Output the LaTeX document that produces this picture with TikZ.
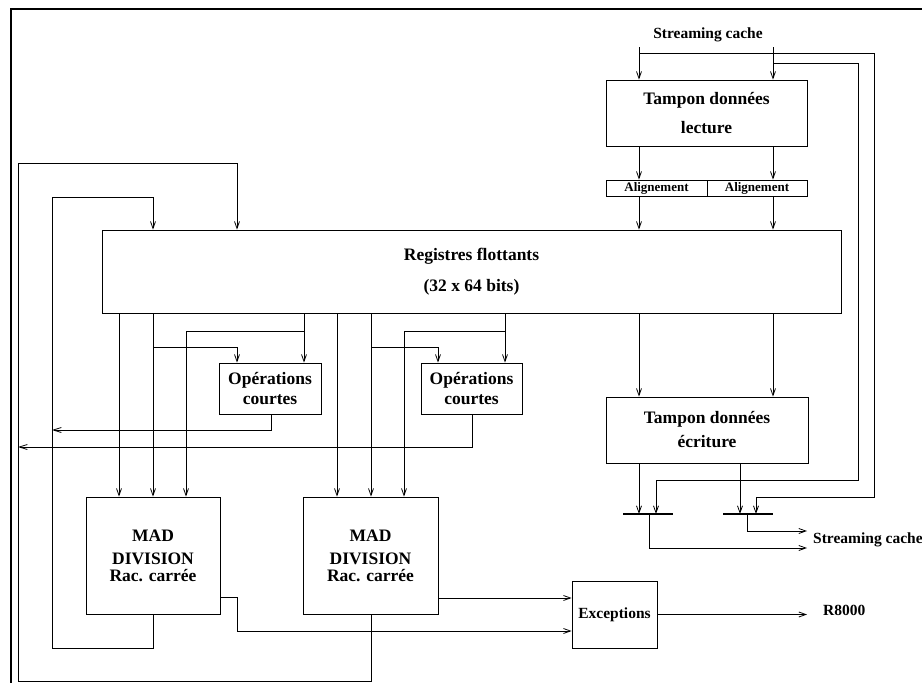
\documentclass[tikz,border=0pt]{standalone}
\usepackage{fontspec}
\setmainfont{Liberation Serif}
\usetikzlibrary{arrows.meta}
\tikzset{
  wire/.style={line width=0.8pt},
  arr/.style={wire,-{Straight Barb[length=7pt,width=5pt]}},
  unit/.style={draw,line width=0.8pt,inner sep=0pt,align=center,
    font=\fontsize{17.5}{20}\selectfont\bfseries},
  smallunit/.style={unit,font=\fontsize{13}{15}\selectfont\bfseries},
  lbl/.style={inner sep=0pt,font=\fontsize{15.5}{18}\selectfont\bfseries},
  frame/.style={line width=2pt},
  bus/.style={line width=2pt},
}
\begin{document}
\begin{tikzpicture}[x=1pt,y=-1pt]
\useasboundingbox (0,0) rectangle (922,683);
\fill[white] (0,0) rectangle (922,683);

% outer frame (left and top edges)
\draw[frame] (11,700) -- (11,9) -- (940,9);

% functional units
\node[unit,minimum width=201,minimum height=66] (lect) at (706.5,113)
  {Tampon données\\[9pt]lecture};
\node[smallunit,minimum width=101,minimum height=16] (al1) at (656.5,188) {Alignement};
\node[smallunit,minimum width=100,minimum height=16] (al2) at (757,188) {Alignement};
\node[unit,minimum width=739,minimum height=83] (reg) at (471.5,271.5)
  {Registres flottants\\[11pt](32 x 64 bits)};
\node[unit,minimum width=102,minimum height=51] (ops1) at (270,388.5)
  {Opérations\\courtes};
\node[unit,minimum width=101,minimum height=51] (ops2) at (471.5,388.5)
  {Opérations\\courtes};
\node[unit,minimum width=202,minimum height=66] (ecr) at (707,430)
  {Tampon données\\[4pt]écriture};
\node[unit,minimum width=134,minimum height=117] (mad1) at (153,555.5)
  {MAD\\[3pt]DIVISION\\[-3pt]Rac. carrée};
\node[unit,minimum width=135,minimum height=117] (mad2) at (370.5,555.5)
  {MAD\\[3pt]DIVISION\\[-3pt]Rac. carrée};
\node[unit,font=\fontsize{15.5}{18}\selectfont\bfseries,
  minimum width=85,minimum height=67] (exc) at (614.5,614.5) {Exceptions};

% write merge bars
\coordinate (b1w) at (623,514); \coordinate (b1e) at (673,514);
\coordinate (b2w) at (723,514); \coordinate (b2e) at (773,514);
\draw[bus] (b1w) -- (b1e);
\draw[bus] (b2w) -- (b2e);

% labels
\node[lbl] (scin) at (708,35) {Streaming cache};
\node[lbl,anchor=west] (scout) at (813,540) {Streaming cache};
\node[lbl,anchor=west] (r8k) at (823,610) {R8000};

% streaming cache input
\coordinate (in1) at (639,47);
\coordinate (in2) at (773,47);
\draw[arr] (in1) -- (in1 |- lect.north);
\draw[arr] (in2) -- (in2 |- lect.north);
\draw[wire] (639,53) -- (874,53) -- (874,497) -- (756,497);
\draw[arr] (756,497) -- (756,0 |- b2w);
\draw[wire] (773,63) -- (858,63) -- (858,480) -- (656,480);
\draw[arr] (656,480) -- (656,0 |- b1w);

% read path
\draw[arr] (in1 |- lect.south) -- (in1 |- al1.north);
\draw[arr] (in2 |- lect.south) -- (in2 |- al2.north);
\draw[arr] (in1 |- al1.south) -- (in1 |- reg.north);
\draw[arr] (in2 |- al2.south) -- (in2 |- reg.north);

% write path
\draw[arr] (in1 |- reg.south) -- (in1 |- ecr.north);
\draw[arr] (in2 |- reg.south) -- (in2 |- ecr.north);
\draw[arr] (in1 |- ecr.south) -- (in1 |- b1w);
\draw[arr] (740,463) -- (740,0 |- b2w);
\draw[arr] (649,514) -- (649,548) -- (807,548);
\draw[arr] (747,514) -- (747,531) -- (807,531);

% register operands to the first group
\draw[arr] (119,313) -- (119,0 |- mad1.north);
\draw[arr] (153,313) -- (153,0 |- mad1.north);
\draw[arr] (153,347) -- (237,347) -- (237,0 |- ops1.north);
\draw[arr] (304,313) -- (304,0 |- ops1.north);
\draw[arr] (304,331) -- (186,331) -- (186,0 |- mad1.north);

% register operands to the second group
\draw[arr] (337,313) -- (337,0 |- mad2.north);
\draw[arr] (371,313) -- (371,0 |- mad2.north);
\draw[arr] (371,347) -- (438,347) -- (438,0 |- ops2.north);
\draw[arr] (505,313) -- (505,0 |- ops2.north);
\draw[arr] (505,331) -- (404,331) -- (404,0 |- mad2.north);

% short operation results
\draw[arr,-{Straight Barb[length=8pt,width=5pt]}] (271,0 |- ops1.south) -- (271,430) -- (52,430);
\draw[arr,-{Straight Barb[length=8pt,width=5pt]}] (472,0 |- ops2.south) -- (472,447) -- (18,447);

% long operation results fed back to the registers
\draw[arr] (153,0 |- mad1.south) -- (153,648) -- (52,648) -- (52,197) -- (153,197) -- (153,0 |- reg.north);
\draw[arr] (371,0 |- mad2.south) -- (371,681) -- (18,681) -- (18,163) -- (237,163) -- (237,0 |- reg.north);

% exception signals
\draw[arr] (mad2.east |- 0,598) -- (exc.west |- 0,598);
\draw[arr] (mad1.east |- 0,597) -- (237,597) -- (237,631) -- (exc.west |- 0,631);
\draw[arr] (exc.east) -- (807,614.5);
\end{tikzpicture}
\end{document}
